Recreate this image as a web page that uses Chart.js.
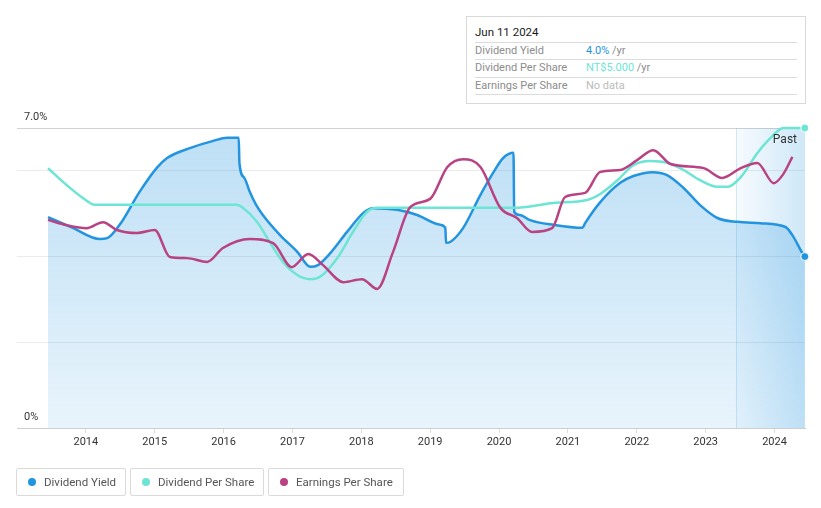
<!DOCTYPE html>
<html>
<head>
<meta charset="utf-8">
<script src="https://cdn.jsdelivr.net/npm/chart.js@4.4.1/dist/chart.umd.min.js"></script>
<style>
  body { margin: 0; background: #fff; font-family: Roboto, "Noto Sans", sans-serif; }
  #wrap { position: relative; width: 821px; height: 508px; overflow: hidden; }
  #chartBox { position: absolute; left: 0; top: 0; width: 821px; height: 508px; }
  #tip { position: absolute; left: 466px; top: 16px; width: 338px; height: 86px; border: 1px solid #d9d9d9; background: #fff; }
  #tip .t { position: absolute; left: 8px; top: 8px; font-size: 11.5px; color: #1a1a1a; }
  #tip .sep { position: absolute; left: 8px; width: 322px; height: 1px; background: #dcdcdc; }
  #tip .row { position: absolute; left: 8px; font-size: 11px; color: #8c8c8c; white-space: nowrap; }
  #tip .val { position: absolute; left: 119px; font-size: 11px; color: #8c8c8c; white-space: nowrap; }
  .legend { position: absolute; top: 468px; height: 26px; border: 1px solid #dadada; border-radius: 2px; font-size: 11.5px; color: #555; line-height: 26px; box-sizing: content-box; }
  .legend i { position: absolute; left: 11px; top: 9px; width: 8px; height: 8px; border-radius: 50%; }
  .legend span { position: absolute; left: 27px; top: 0; white-space: nowrap; }
</style>
</head>
<body>
<div id="wrap">
  <div id="chartBox"><canvas id="c"></canvas></div>

  <div id="tip">
    <div class="t">Jun 11 2024</div>
    <div class="sep" style="top:25px"></div>
    <div class="row" style="top:27px">Dividend Yield</div>
    <div class="val" style="top:27px"><span style="color:#2394df">4.0%</span> /yr</div>
    <div class="sep" style="top:42px"></div>
    <div class="row" style="top:44px">Dividend Per Share</div>
    <div class="val" style="top:44px"><span style="color:#6ce5d4">NT$5.000</span> /yr</div>
    <div class="sep" style="top:60px"></div>
    <div class="row" style="top:62px">Earnings Per Share</div>
    <div class="val" style="top:62px;color:#bbb">No data</div>
    <div class="sep" style="top:77px"></div>
  </div>

  <div class="legend" style="left:16px;width:108px"><i style="background:#2394df"></i><span>Dividend Yield</span></div>
  <div class="legend" style="left:130px;width:132px"><i style="background:#6ce5d4"></i><span>Dividend Per Share</span></div>
  <div class="legend" style="left:268px;width:134px"><i style="background:#b94283"></i><span>Earnings Per Share</span></div>
</div>

<script>
// dividend yield (%), x = decimal year
const yieldDates = [2013.45, 2013.81, 2014.20, 2014.31, 2014.49, 2014.78, 2015.03, 2015.18, 2015.51, 2015.85,
  2016.05, 2016.22, 2016.23, 2016.30, 2016.38, 2016.47, 2016.57, 2016.82, 2017.07, 2017.26, 2017.37,
  2017.55, 2017.79, 2018.03, 2018.17, 2018.52, 2018.81, 2019.15, 2019.22, 2019.23, 2019.29, 2019.48, 2019.73,
  2019.92, 2020.06, 2020.21, 2020.22, 2020.30, 2020.45, 2020.79, 2021.21, 2021.25, 2021.47, 2021.76, 2021.95,
  2022.23, 2022.44, 2022.68, 2022.92, 2023.17, 2023.46, 2023.80, 2024.16, 2024.26, 2024.42, 2024.44];
const yieldValues = [4.92, 4.67, 4.41, 4.43, 4.74, 5.51, 6.07, 6.30, 6.53, 6.70,
  6.77, 6.77, 6.18, 5.84, 5.51, 5.21, 4.97, 4.50, 4.11, 3.76, 3.80,
  4.08, 4.57, 5.02, 5.13, 5.09, 4.97, 4.74, 4.67, 4.32, 4.34, 4.67, 5.44,
  5.97, 6.30, 6.42, 5.04, 4.97, 4.85, 4.74, 4.67, 4.78, 5.27, 5.72, 5.88,
  5.97, 5.90, 5.60, 5.20, 4.90, 4.81, 4.78, 4.69, 4.50, 4.04, 4.00];

// dividend per share (NT$)
const dpsDates = [2013.45, 2013.72, 2013.96, 2014.13, 2015.20, 2016.19, 2016.28, 2016.49, 2016.67, 2016.86,
  2017.07, 2017.26, 2017.40, 2017.65, 2017.88, 2018.08, 2018.23, 2019.20, 2020.21, 2020.79, 2021.28, 2021.47,
  2021.72, 2021.95, 2022.20, 2022.44, 2022.68, 2022.92, 2023.17, 2023.32, 2023.51, 2023.75, 2023.94, 2024.13, 2024.44];
const dpsValues = [4.33, 4.05, 3.83, 3.72, 3.72, 3.72, 3.67, 3.43, 3.10, 2.77,
  2.55, 2.48, 2.52, 2.83, 3.27, 3.60, 3.67, 3.67, 3.67, 3.75, 3.80, 3.90,
  4.13, 4.38, 4.45, 4.42, 4.30, 4.13, 4.02, 4.02, 4.18, 4.58, 4.83, 5.00, 5.00];

// earnings per share (NT$)
const epsDates = [2013.45, 2013.72, 2014.01, 2014.25, 2014.45, 2014.74, 2015.00, 2015.22, 2015.47, 2015.76,
  2015.99, 2016.38, 2016.72, 2016.99, 2017.23, 2017.44, 2017.74, 2018.01, 2018.23, 2018.46, 2018.71, 2019.00,
  2019.25, 2019.48, 2019.73, 2020.02, 2020.26, 2020.48, 2020.77, 2020.96, 2021.25, 2021.47, 2021.76, 2022.01,
  2022.24, 2022.49, 2022.97, 2023.24, 2023.51, 2023.75, 2023.99, 2024.12, 2024.26];
const epsValues = [5.55, 5.41, 5.33, 5.49, 5.28, 5.20, 5.28, 4.56, 4.53, 4.43,
  4.80, 5.04, 4.93, 4.29, 4.64, 4.35, 3.89, 3.97, 3.71, 4.69, 5.89, 6.11,
  6.96, 7.17, 6.96, 5.87, 5.60, 5.23, 5.33, 6.16, 6.27, 6.83, 6.88, 7.15,
  7.41, 7.04, 6.93, 6.67, 6.93, 7.07, 6.53, 6.75, 7.23];

const yearTicks = [2014, 2015, 2016, 2017, 2018, 2019, 2020, 2021, 2022, 2023, 2024];
const yTickValues = [0, 2, 4, 6, 7];
const pastStart = 2023.44;

const BLUE = '#2394df', TEAL = '#6ce5d4', PINK = '#b94283';

const toPoints = (xs, ys) => xs.map((x, i) => ({ x: x, y: ys[i] }));
const lastOnly = n => ctx => (ctx.dataIndex === n - 1 ? 4 : 0);

const pastPlugin = {
  id: 'past',
  beforeDatasetsDraw(chart) {
    const { ctx, chartArea: a, scales } = chart;
    const x0 = scales.x.getPixelForValue(pastStart);
    const g = ctx.createLinearGradient(x0, 0, a.right, 0);
    g.addColorStop(0, 'rgba(35,148,223,0.04)');
    g.addColorStop(1, 'rgba(35,148,223,0.22)');
    ctx.save();
    ctx.fillStyle = g;
    ctx.fillRect(x0, a.top, a.right - x0, a.bottom - a.top);
    ctx.strokeStyle = 'rgba(35,148,223,0.18)';
    ctx.lineWidth = 1;
    ctx.beginPath();
    ctx.moveTo(Math.round(x0) + 0.5, a.top);
    ctx.lineTo(Math.round(x0) + 0.5, a.bottom);
    ctx.stroke();
    ctx.restore();
  },
  afterDatasetsDraw(chart) {
    const { ctx, chartArea: a } = chart;
    ctx.save();
    ctx.font = '12px Roboto';
    ctx.fillStyle = '#333';
    ctx.textAlign = 'right';
    ctx.textBaseline = 'middle';
    ctx.fillText('Past', a.right - 8, a.top + 12);
    ctx.restore();
  }
};

new Chart(document.getElementById('c'), {
  type: 'line',
  data: {
    datasets: [
      {
        label: 'Earnings Per Share',
        data: toPoints(epsDates, epsValues),
        yAxisID: 'yEps',
        borderColor: PINK,
        borderWidth: 2.5,
        pointRadius: 0,
        fill: false,
        cubicInterpolationMode: 'monotone',
        clip: 6
      },
      {
        label: 'Dividend Per Share',
        data: toPoints(dpsDates, dpsValues),
        yAxisID: 'yDps',
        borderColor: TEAL,
        borderWidth: 2.5,
        pointRadius: lastOnly(dpsDates.length),
        pointBackgroundColor: TEAL,
        pointBorderColor: '#fff',
        pointBorderWidth: 1,
        fill: false,
        cubicInterpolationMode: 'monotone',
        clip: 6
      },
      {
        label: 'Dividend Yield',
        data: toPoints(yieldDates, yieldValues),
        yAxisID: 'y',
        borderColor: BLUE,
        borderWidth: 2.5,
        pointRadius: lastOnly(yieldDates.length),
        pointBackgroundColor: BLUE,
        pointBorderColor: '#fff',
        pointBorderWidth: 1,
        fill: 'origin',
        backgroundColor: ctx => {
          const a = ctx.chart.chartArea;
          if (!a) return 'rgba(35,148,223,0.2)';
          const g = ctx.chart.ctx.createLinearGradient(0, a.top, 0, a.bottom);
          g.addColorStop(0, 'rgba(35,148,223,0.30)');
          g.addColorStop(1, 'rgba(35,148,223,0.10)');
          return g;
        },
        cubicInterpolationMode: 'monotone',
        clip: 6
      }
    ]
  },
  options: {
    responsive: true,
    maintainAspectRatio: false,
    animation: false,
    events: [],
    layout: { padding: { left: 17, right: 16, top: 128, bottom: 50 } },
    scales: {
      x: {
        type: 'linear',
        min: 2013.0,
        max: 2024.443,
        afterFit: axis => { axis.height = 30; },
        afterBuildTicks: axis => { axis.ticks = [2013].concat(yearTicks).map(v => ({ value: v })); },
        ticks: {
          maxRotation: 0,
          autoSkip: false,
          padding: 3,
          color: '#333',
          font: { family: 'Roboto', size: 11 },
          callback: v => (yearTicks.includes(v) ? String(v) : '')
        },
        grid: {
          drawOnChartArea: false,
          drawTicks: true,
          tickLength: 5,
          tickColor: ctx => (ctx.tick && ctx.tick.value >= 2014 ? '#dedede' : 'rgba(0,0,0,0)')
        },
        border: { color: '#cfcfcf' }
      },
      y: {
        min: 0,
        max: 7,
        afterFit: axis => { axis.width = 0; },
        afterBuildTicks: axis => { axis.ticks = yTickValues.map(v => ({ value: v })); },
        ticks: {
          mirror: true,
          padding: 7,
          labelOffset: -11,
          color: '#333',
          font: { family: 'Roboto', size: 11 },
          callback: v => (v === 7 ? '7.0%' : v === 0 ? '0%' : '')
        },
        grid: {
          drawTicks: false,
          color: ctx => (ctx.tick && (ctx.tick.value === 7 || ctx.tick.value === 0) ? '#d2d2d2' : '#ebebeb')
        },
        border: { display: false }
      },
      yDps: { display: false, min: 0, max: 5 },
      yEps: { display: false, min: 0, max: 8 }
    },
    plugins: {
      legend: { display: false },
      tooltip: { enabled: false }
    }
  },
  plugins: [pastPlugin]
});
</script>
</body>
</html>
